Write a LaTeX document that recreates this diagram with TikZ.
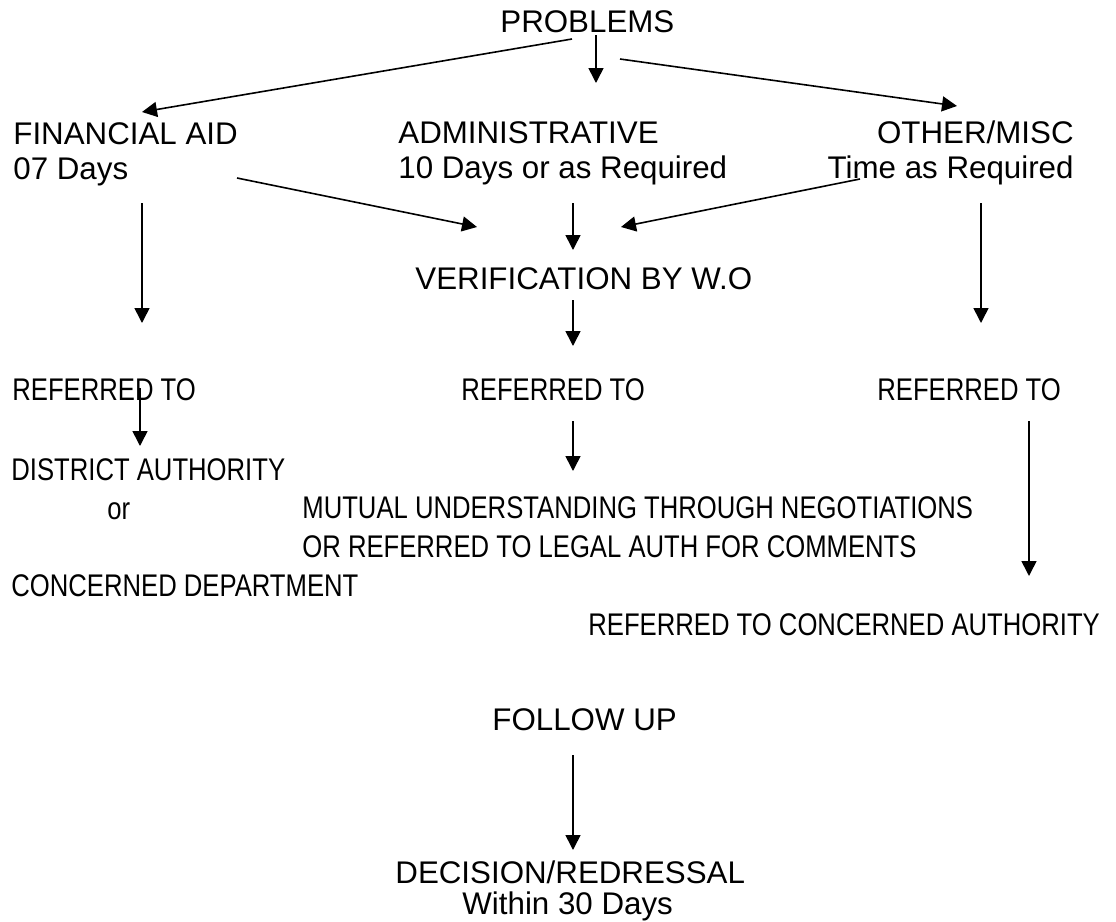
\documentclass[tikz,border=0pt]{standalone}
\usepackage{fontspec}
\setmainfont{Liberation Sans}
\newfontfamily\narrowfont[FakeStretch=0.82]{Liberation Sans}
\usetikzlibrary{arrows.meta}

\begin{document}
\begin{tikzpicture}[x=0.5pt,y=-0.5pt,
  txt/.style={inner sep=0pt,anchor=base west,align=left,font=\fontsize{15.65}{17.5}\selectfont},
  nar/.style={inner sep=0pt,anchor=base west,align=left,font=\narrowfont\fontsize{15.65}{19.35}\selectfont},
  arr/.style={-{Triangle[length=7.5pt,width=7.5pt]},line width=0.8pt}]
  \useasboundingbox (0,0) rectangle (1116,922);

  % top level (multi-line nodes sit on their last line)
  \node[txt] (prob) at (500,32) {PROBLEMS};
  \node[txt] (fin) at (13,179) {FINANCIAL AID\\07 Days};
  \node[txt] (adm) at (398,178) {ADMINISTRATIVE\\10 Days or as Required};
  \node[txt,anchor=base east,align=right] (oth) at (1074,178) {OTHER/MISC\\Time as Required};
  \node[txt] (ver) at (415,289) {VERIFICATION BY W.O};

  % referred to
  \node[nar] (refa) at (12,400) {REFERRED TO};
  \node[nar] (refb) at (461,400) {REFERRED TO};
  \node[nar] (refc) at (877,400) {REFERRED TO};
  \node[nar] (dist) at (11,480) {DISTRICT AUTHORITY};
  \node[nar] (orw) at (107,519) {or};
  \node[nar] (dept) at (11,596) {CONCERNED DEPARTMENT};
  \node[nar] (mut) at (302,557) {MUTUAL UNDERSTANDING THROUGH NEGOTIATIONS\\OR REFERRED TO LEGAL AUTH FOR COMMENTS};
  \node[nar] (auth) at (588,635) {REFERRED TO CONCERNED AUTHORITY};

  % bottom
  \node[txt] (fol) at (492,730) {FOLLOW UP};
  \node[txt] (dec) at (395,883) {DECISION/REDRESSAL};
  \node[txt] (wit) at (462,914) {Within 30 Days};

  \coordinate (probL) at (572,39);   \coordinate (finT) at (142,112);
  \coordinate (probM) at (596,35);   \coordinate (admT) at (596,83);
  \coordinate (probR) at (620,59);   \coordinate (othT) at (957,106);
  \coordinate (finB) at (237,178);   \coordinate (verL) at (477,227);
  \coordinate (admB) at (573,203);   \coordinate (verT) at (573,250);
  \coordinate (othB) at (860,179);   \coordinate (verR) at (621,227);
  \coordinate (finD) at (142,203);   \coordinate (refaT) at (142,323);
  \coordinate (othD) at (981,203);   \coordinate (refcT) at (981,323);
  \coordinate (verB) at (573,300);   \coordinate (refbT) at (573,346);
  \coordinate (refaB) at (140,388);  \coordinate (distT) at (140,446);
  \coordinate (refbB) at (573,421);  \coordinate (mutT) at (573,471);
  \coordinate (refcB) at (1029,421); \coordinate (authT) at (1029,576);
  \coordinate (folB) at (573,755);   \coordinate (decT) at (573,850);

  \draw[arr] (probL) -- (finT);
  \draw[arr] (probM) -- (admT);
  \draw[arr] (probR) -- (othT);
  \draw[arr] (finB) -- (verL);
  \draw[arr] (admB) -- (verT);
  \draw[arr] (othB) -- (verR);
  \draw[arr] (finD) -- (refaT);
  \draw[arr] (othD) -- (refcT);
  \draw[arr] (verB) -- (refbT);
  \draw[arr] (refaB) -- (distT);
  \draw[arr] (refbB) -- (mutT);
  \draw[arr] (refcB) -- (authT);
  \draw[arr] (folB) -- (decT);
\end{tikzpicture}
\end{document}
